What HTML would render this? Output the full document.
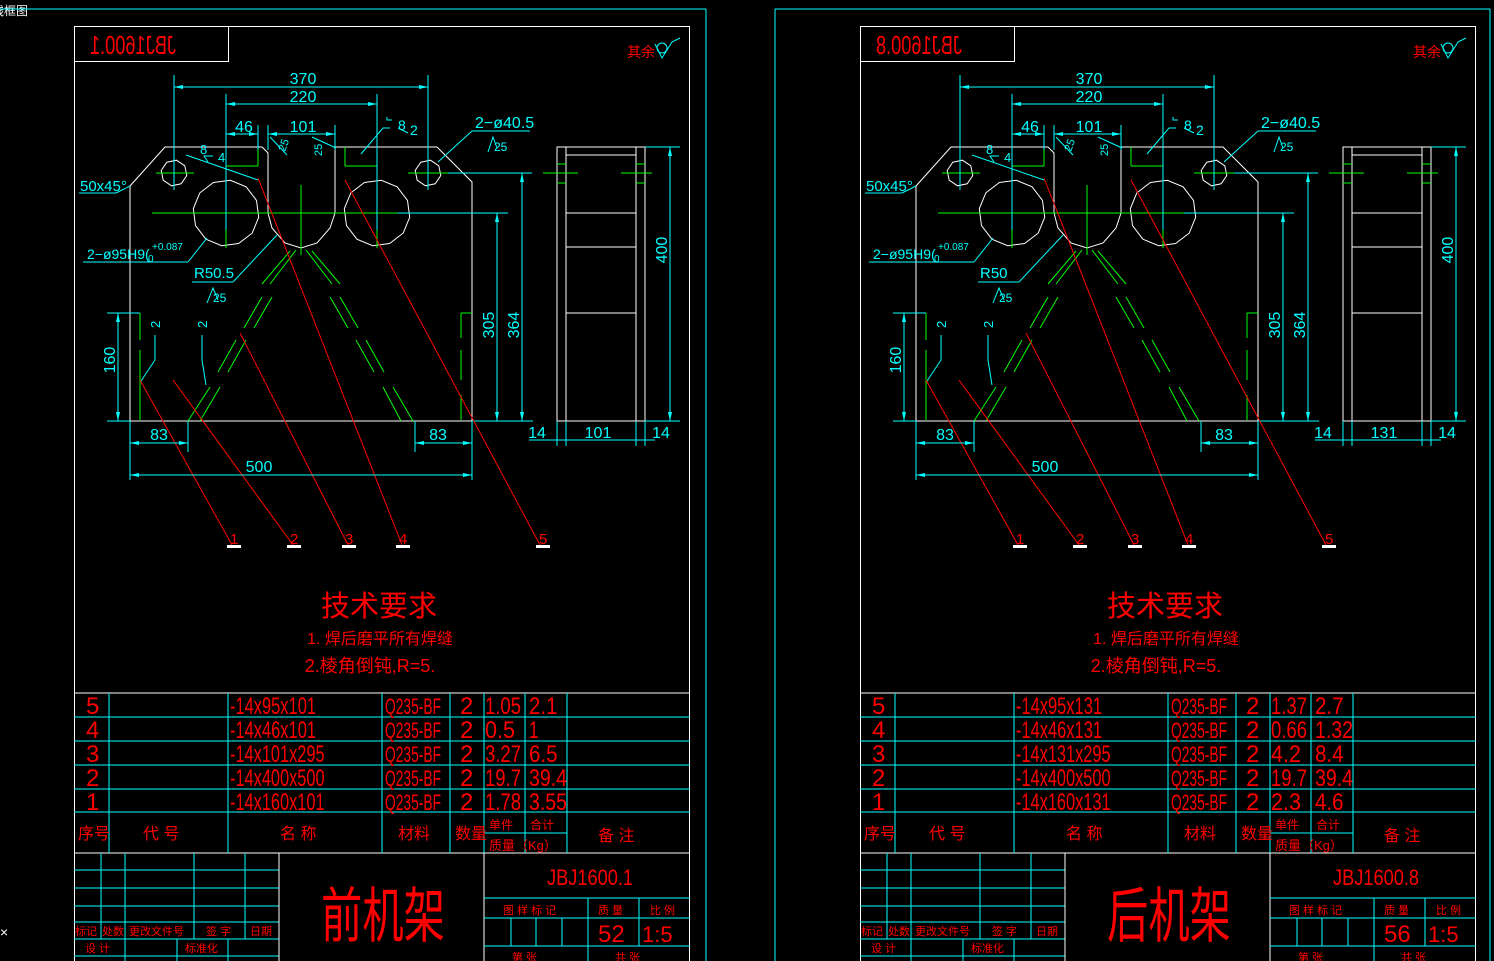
<!DOCTYPE html>
<html><head><meta charset="utf-8"><style>
html,body{margin:0;padding:0;background:#000;width:1494px;height:961px;overflow:hidden}
svg{display:block}
text{font-family:"Liberation Sans","Noto Sans CJK SC",sans-serif}
</style></head><body>
<svg id="s" width="1494" height="961" viewBox="0 0 1494 961" xmlns="http://www.w3.org/2000/svg">
<rect width="1494" height="961" fill="#000"/>
<text x="-8" y="15" fill="#fff" font-size="12">线框图</text>
<line x1="0" y1="9" x2="706" y2="9" stroke="#0ff"/>
<line x1="706" y1="9" x2="706" y2="961" stroke="#0ff"/>
<line x1="775" y1="9" x2="1490" y2="9" stroke="#0ff"/>
<line x1="775" y1="9" x2="775" y2="961" stroke="#0ff"/>
<line x1="1490" y1="9" x2="1490" y2="961" stroke="#0ff"/>
<text x="0" y="937" fill="#fff" font-size="14">×</text>
</svg>
<script>
const C="#0ff",W="#fff",R="#f00",G="#0f0";
function L(a,b,c,d,col,w){return `<line x1="${a}" y1="${b}" x2="${c}" y2="${d}" stroke="${col}" stroke-width="${w||1}"/>`}
function T(x,y,s,sz,col,o){o=o||{};let tl=o.tl?` textLength="${o.tl}" lengthAdjust="spacingAndGlyphs"`:"";let anc=o.a?` text-anchor="${o.a}"`:"";let tr=o.rot?` transform="rotate(${o.rot} ${x} ${y})"`:"";return `<text x="${x}" y="${y}" fill="${col}" font-size="${sz}"${tl}${anc}${tr}>${s}</text>`}
function poly(cx,cy,r,n){let p=[];for(let i=0;i<n;i++){let a=i*2*Math.PI/n+Math.PI/n/2;p.push((cx+r*Math.cos(a)).toFixed(1)+","+(cy+r*Math.sin(a)).toFixed(1))}return `<polygon points="${p.join(" ")}" fill="none" stroke="${W}"/>`}
function arrH(x1,x2,y){return L(x1,y,x2,y,C)+`<polygon points="${x1},${y} ${x1+9},${y-2} ${x1+9},${y+2}" fill="${C}"/><polygon points="${x2},${y} ${x2-9},${y-2} ${x2-9},${y+2}" fill="${C}"/>`}
function arrV(x,y1,y2){return L(x,y1,x,y2,C)+`<polygon points="${x},${y1} ${x-2},${y1+9} ${x+2},${y1+9}" fill="${C}"/><polygon points="${x},${y2} ${x-2},${y2-9} ${x+2},${y2-9}" fill="${C}"/>`}
function panel(dx,d){
let s=`<g transform="translate(${dx},0)">`;
s+=`<rect x="74.5" y="26.5" width="615" height="960" fill="none" stroke="${W}"/>`;
s+=`<rect x="74.5" y="26.5" width="154" height="35" fill="none" stroke="${W}"/>`;
s+=`<g transform="translate(264,0) scale(-1,1)">`+T(88,54,d.code,26,R,{tl:86})+`</g>`;
s+=T(627,57,"其余",14,R);
s+=`<polyline points="655,44 662,58 672,42 680,38" fill="none" stroke="${C}"/><circle cx="662" cy="48" r="5" fill="none" stroke="${C}"/>`;
s+=`<polyline points="262,147 165,147 130,186 130,421" fill="none" stroke="${W}"/>`;
s+=`<polyline points="262,147 268,153 268,213" fill="none" stroke="${W}"/>`;
s+=`<path d="M268,213 L272,228 L285,243 L301,248 L317,243 L330,228 L335,213" fill="none" stroke="${W}"/>`;
s+=`<polyline points="335,213 335,147 437,147 472,182 472,421" fill="none" stroke="${W}"/>`;
s+=L(130,421,472,421,W)+L(107,421,130,421,C)+L(472,421,533,421,C);
s+=poly(226,213,33,12)+poly(377,213,33,12)+poly(174,173,13,8)+poly(428,173,13,8);
s+=L(152,213,398,213,G)+L(398,213,508,213,C)+L(156,173,194,173,G)+L(408,173,448,173,G)+L(448,173,532,173,C);
s+=L(226,180,226,248,G)+L(301,185,301,255,G)+L(377,180,377,248,G)+L(174,158,174,190,C)+L(428,158,428,190,C);
s+=L(226,166,258,166,G)+L(258,147,258,166,G)+L(345,166,377,166,G)+L(345,147,345,166,G);
[[296,250,270,284],[290,251,262,284],[262,297,244,328],[272,297,254,328],[236,340,218,372],[246,340,228,372],[210,387,188,421],[220,387,200,421]].forEach(p=>{s+=L(...p,G)});
[[306,250,332,284],[312,251,340,284],[330,297,348,328],[340,297,358,328],[356,340,374,372],[366,340,384,372],[383,387,401,421],[393,387,413,421]].forEach(p=>{s+=L(...p,G)});
s+=L(140,313,140,340,G)+L(140,350,140,420,G)+L(461,313,472,313,G)+L(461,313,461,338,G)+L(461,350,461,380,G)+L(461,395,461,420,G);
s+=L(140,380,232,545,R)+L(173,380,293,545,R)+L(240,333,348,545,R)+L(258,178,402,545,R)+L(345,180,540,545,R);
[[233,"1"],[293,"2"],[348,"3"],[402,"4"],[542,"5"]].forEach(q=>{s+=T(q[0]-3,544,q[1],15,R)+`<rect x="${q[0]-6}" y="545" width="14" height="3" fill="${W}"/>`});
s+=L(174,75,174,170,C)+L(428,75,428,170,C)+arrH(174,428,87)+T(303,84,"370",16,C,{a:"middle"});
s+=L(226,94,226,230,C)+L(377,94,377,230,C)+arrH(226,377,104)+T(303,102,"220",16,C,{a:"middle"});
s+=L(258,125,258,150,C)+arrH(226,258,134)+T(244,132,"46",16,C,{a:"middle"});
s+=L(268,125,268,150,C)+L(335,125,335,150,C)+arrH(268,335,134)+T(303,132,"101",16,C,{a:"middle"});
s+=T(285,152,"25",11,C,{rot:-70})+L(270,137,287,155,C)+T(322,156,"25",11,C,{rot:-90})+L(312,137,336,148,C);
s+=`<polyline points="361,154 383,128 390,128" fill="none" stroke="${C}"/>`+T(398,130,"8",14,C)+T(410,135,"2",14,C)+`<polyline points="387,117 387,120 392,120" fill="none" stroke="${C}"/>`+L(398,128,408,133,C);
s+=T(200,154,"8",13,C)+T(218,162,"4",13,C)+L(186,155,258,180,C)+`<polyline points="208,162 204,156 213,156" fill="none" stroke="${C}"/>`;
s+=T(475,128,"2−ø40.5",16,C)+L(472,131,530,131,C)+L(472,131,438,162,C)+T(494,151,"25",12,C)+`<polyline points="488,152 493,137 497,148" fill="none" stroke="${C}"/>`;
s+=T(80,191,"50x45°",15,C)+L(79,193,116,193,C)+L(116,193,130,186,C);
s+=T(87,259,d.hole,14,C)+T(152,250,"+0.087",10,C)+T(148,262,"0",10,C)+L(83,262,188,262,C)+L(188,262,207,238,C);
s+=T(194,278,d.r,15,C)+L(192,282,233,282,C)+L(233,282,277,235,C)+T(213,302,"25",12,C)+`<polyline points="207,303 213,288 218,300" fill="none" stroke="${C}"/>`;
s+=T(160,328,"2",13,C,{rot:-90})+L(155,335,155,360,C)+L(155,360,141,381,C)+T(207,328,"2",13,C,{rot:-90})+L(202,335,202,360,C)+L(202,360,206,385,C);
s+=arrV(497,213,421)+T(494,325,"305",16,C,{rot:-90,a:"middle"});
s+=arrV(522,173,421)+T(519,325,"364",16,C,{rot:-90,a:"middle"});
s+=L(107,313,140,313,C)+arrV(118,313,421)+T(115,360,"160",16,C,{rot:-90,a:"middle"});
s+=L(130,421,130,480,C)+L(188,421,188,452,C)+L(415,421,415,452,C)+L(472,421,472,480,C);
s+=arrH(130,188,443)+T(159,440,"83",16,C,{a:"middle"})+arrH(415,472,443)+T(438,440,"83",16,C,{a:"middle"});
s+=arrH(130,472,475)+T(259,472,"500",16,C,{a:"middle"});
s+=`<rect x="557" y="147" width="88" height="274" fill="none" stroke="${W}"/>`+L(566,147,566,421,W)+L(636,147,636,421,W);
s+=L(566,155,636,155,W)+L(566,213,636,213,W)+L(566,247,636,247,W)+L(566,313,636,313,W);
s+=L(543,173,578,173,G)+L(621,173,652,173,G)+L(557,164,566,164,G)+L(557,183,566,183,G)+L(636,164,645,164,G)+L(636,183,645,183,G);
s+=L(645,147,680,147,C)+L(645,421,680,421,C)+arrV(670,147,421)+T(667,250,"400",16,C,{rot:-90,a:"middle"});
s+=L(557,421,557,446,C)+L(566,421,566,446,C)+L(636,421,636,446,C)+L(645,421,645,446,C);
s+=L(529,440,655,440,C)+T(537,438,"14",16,C,{a:"middle"})+T(598,438,d.w,16,C,{a:"middle"})+T(661,438,"14",16,C,{a:"middle"});
s+=T(379,616,"技术要求",29,R,{a:"middle"})+T(380,644,"1. 焊后磨平所有焊缝",16,R,{a:"middle"})+T(370,672,"2.棱角倒钝,R=5.",18,R,{a:"middle"});
s+=L(74,693,690,693,W);
[717,741,765,789,812].forEach(y=>{s+=L(74,y,690,y,C)});
s+=L(74,853,690,853,W);
[109,228,382,450,484,525,567].forEach(x=>{s+=L(x,693,x,853,C)});
s+=L(484,833,567,833,C);
d.rows.forEach((r,i)=>{let y=714+i*24;s+=T(86,y,r[0],24,R)+T(230,y,r[1],24,R,{tl:r[1].length*8.6})+T(385,y,"Q235-BF",22,R,{tl:56})+T(460,y,"2",24,R)+T(485,y,r[2],24,R,{tl:r[2].length>3?36:r[2].length*10})+T(529,y,r[3],24,R,{tl:r[3].length*9.5})});
s+=T(78,839,"序号",16,R)+T(143,839,"代  号",16,R)+T(280,839,"名  称",16,R)+T(398,839,"材料",16,R)+T(455,839,"数量",16,R)+T(489,829,"单件",12,R)+T(530,829,"合计",12,R)+T(489,850,"质量（Kg）",13,R)+T(598,841,"备 注",16,R);
[870,888,906,922,939,956].forEach(y=>{s+=L(74,y,279,y,C)});
s+=L(101,853,101,939,C)+L(125,853,125,961,C)+L(194,853,194,939,C)+L(245,853,245,939,C)+L(177,939,177,961,C)+L(228,939,228,961,C);
s+=L(279,853,279,961,W)+L(484,853,484,961,W);
s+=T(75,935,"标记",11,R)+T(102,935,"处数",11,R)+T(129,935,"更改文件号",11,R)+T(206,935,"签 字",11,R)+T(250,935,"日期",11,R)+T(85,952,"设 计",11,R)+T(185,952,"标准化",11,R);
s+=T(383,937,d.name,60,R,{a:"middle",tl:124});
s+=T(590,885,d.code,22,R,{a:"middle",tl:86});
s+=L(484,898,690,898,C)+L(484,918,690,918,C)+L(484,946,690,946,C)+L(588,898,588,961,C)+L(639,898,639,946,C)+L(511,918,511,946,C)+L(536,918,536,946,C)+L(562,918,562,946,C);
s+=T(503,914,"图 样 标 记",11,R)+T(598,914,"质 量",11,R)+T(650,914,"比 例",11,R)+T(598,942,d.m,24,R)+T(642,942,"1:5",22,R)+T(512,961,"第  张",11,R)+T(615,961,"共  张",11,R);
return s+`</g>`;}
const s=document.getElementById("s");
s.insertAdjacentHTML("beforeend",panel(0,{code:"JBJ1600.1",hole:"2−ø95H9(",r:"R50.5",w:"101",name:"前机架",m:"52",rows:[["5","-14x95x101","1.05","2.1"],["4","-14x46x101","0.5","1"],["3","-14x101x295","3.27","6.5"],["2","-14x400x500","19.7","39.4"],["1","-14x160x101","1.78","3.55"]]}));
s.insertAdjacentHTML("beforeend",panel(786,{code:"JBJ1600.8",hole:"2−ø95H9(",r:"R50",w:"131",name:"后机架",m:"56",rows:[["5","-14x95x131","1.37","2.7"],["4","-14x46x131","0.66","1.32"],["3","-14x131x295","4.2","8.4"],["2","-14x400x500","19.7","39.4"],["1","-14x160x131","2.3","4.6"]]}));
</script>
</body></html>
